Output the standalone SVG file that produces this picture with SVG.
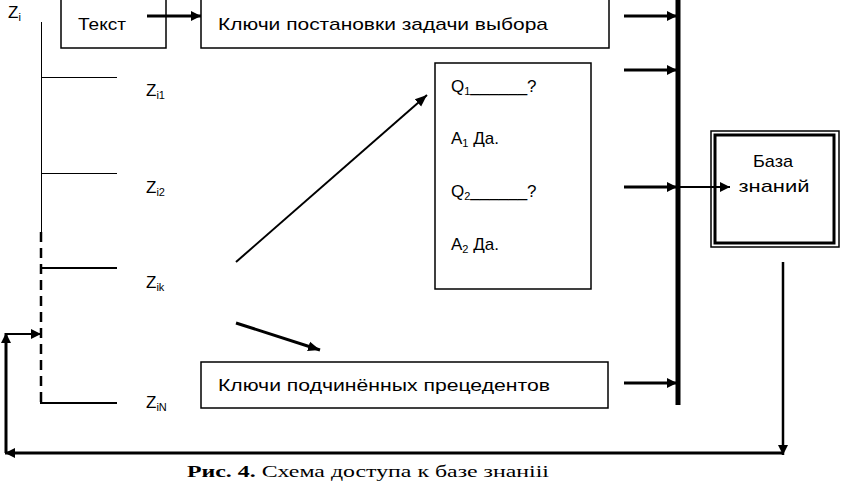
<svg xmlns="http://www.w3.org/2000/svg" width="841" height="490" viewBox="0 0 841 490">
<defs>
<marker id="ah" viewBox="0 0 10 10" refX="10" refY="5" markerWidth="10" markerHeight="10" markerUnits="userSpaceOnUse" orient="auto"><path d="M0,0 L10,5 L0,10 z" fill="#000"/></marker>
<marker id="ahs" viewBox="0 0 10 10" refX="10" refY="5" markerWidth="12" markerHeight="12" markerUnits="userSpaceOnUse" orient="auto"><path d="M0,1 L10,5 L0,9 z" fill="#000"/></marker>
</defs>
<style>
.box{fill:#fff;stroke:#000;stroke-width:1.5}
.t{font-family:"Liberation Sans","Open Sans",sans-serif;font-size:17px;fill:#000}
.z{font-family:"Liberation Sans",sans-serif;font-size:17px;fill:#000}
.sub{font-size:11px}
.thin{stroke:#000;stroke-width:1;fill:none}
.thick{stroke:#000;stroke-width:3;fill:none}
.cap{font-family:"Liberation Serif","Times New Roman",serif;font-size:17px;fill:#000}
</style>
<rect width="841" height="490" fill="#fff"/>

<g id="z-tree">
<line class="thin" x1="41.5" y1="22" x2="41.5" y2="232"/>
<line x1="41" y1="232" x2="41" y2="403" stroke="#000" stroke-width="2.5" stroke-dasharray="10,6"/>
<line class="thin" x1="41" y1="77.5" x2="117" y2="77.5"/>
<line class="thin" x1="41" y1="173.5" x2="117" y2="173.5"/>
<line x1="40" y1="268" x2="117" y2="268" stroke="#000" stroke-width="2"/>
<line x1="40" y1="403" x2="117" y2="403" stroke="#000" stroke-width="2"/>
<text class="z" x="8" y="18">Z<tspan class="sub" dy="3">i</tspan></text>
<text class="z" x="146" y="96">Z<tspan class="sub" dy="3">i1</tspan></text>
<text class="z" x="146" y="193">Z<tspan class="sub" dy="3">i2</tspan></text>
<text class="z" x="146" y="288">Z<tspan class="sub" dy="3">ik</tspan></text>
<text class="z" x="146" y="408">Z<tspan class="sub" dy="3">iN</tspan></text>
</g>

<g id="tekst">
<rect class="box" x="61" y="-1" width="105" height="49"/>
<text class="t" x="78" y="30" textLength="48" lengthAdjust="spacingAndGlyphs">Текст</text>
</g>

<g id="keys-task">
<rect class="box" x="201" y="-1" width="408" height="49"/>
<text class="t" x="218" y="30" textLength="330" lengthAdjust="spacingAndGlyphs">Ключи постановки задачи выбора</text>
</g>

<g id="qa">
<rect class="box" x="435" y="63" width="156" height="226"/>
<text class="t" x="451" y="92" font-size="17">Q<tspan font-size="11" dy="3">1</tspan><tspan dy="-3">______?</tspan></text>
<text class="t" x="451" y="144" font-size="17">A<tspan font-size="11" dy="3">1</tspan><tspan dy="-3"> Да.</tspan></text>
<text class="t" x="451" y="197" font-size="17">Q<tspan font-size="11" dy="3">2</tspan><tspan dy="-3">______?</tspan></text>
<text class="t" x="451" y="250" font-size="17">A<tspan font-size="11" dy="3">2</tspan><tspan dy="-3"> Да.</tspan></text>
</g>

<g id="keys-sub">
<rect class="box" x="201" y="362" width="407" height="46"/>
<text class="t" x="218" y="391" textLength="332" lengthAdjust="spacingAndGlyphs">Ключи подчинённых прецедентов</text>
</g>

<g id="kb">
<rect x="711" y="131" width="128" height="116" fill="#fff" stroke="#000" stroke-width="1.5"/>
<rect x="715" y="135" width="119" height="108" fill="none" stroke="#000" stroke-width="3"/>
<text class="t" x="773" y="167" text-anchor="middle" textLength="40" lengthAdjust="spacingAndGlyphs">База</text>
<text class="t" x="774" y="192" text-anchor="middle" textLength="71" lengthAdjust="spacingAndGlyphs">знаний</text>
</g>

<g id="bus">
<line x1="678" y1="0" x2="678" y2="405" stroke="#000" stroke-width="5"/>
</g>

<g id="connectors">
<line class="thick" x1="147" y1="16" x2="201" y2="16" marker-end="url(#ah)"/>
<line class="thick" x1="624" y1="16" x2="677" y2="16" marker-end="url(#ah)"/>
<line class="thick" x1="624" y1="70" x2="677" y2="70" marker-end="url(#ah)"/>
<line class="thick" x1="624" y1="187" x2="677" y2="187" marker-end="url(#ah)"/>
<line class="thick" x1="624" y1="383" x2="677" y2="383" marker-end="url(#ah)"/>
<line x1="678" y1="187" x2="730" y2="187" stroke="#000" stroke-width="2" marker-end="url(#ah)"/>
<line x1="236" y1="262" x2="427" y2="95" stroke="#000" stroke-width="2" marker-end="url(#ahs)"/>
<line x1="236" y1="323" x2="320" y2="350" stroke="#000" stroke-width="3" marker-end="url(#ahs)"/>
<line x1="783" y1="262" x2="783" y2="455" stroke="#000" stroke-width="2.5" marker-end="url(#ah)"/>
<line x1="783" y1="453" x2="5" y2="453" stroke="#000" stroke-width="3" marker-end="url(#ah)"/>
<line x1="6" y1="453" x2="6" y2="333" stroke="#000" stroke-width="3" marker-end="url(#ah)"/>
<line x1="6" y1="334" x2="41" y2="334" stroke="#000" stroke-width="2" marker-end="url(#ah)"/>
</g>

<text class="cap" x="187" y="477" textLength="362" lengthAdjust="spacingAndGlyphs"><tspan font-weight="bold">Рис. 4.</tspan> Схема доступа к базе знанiii</text>
</svg>
